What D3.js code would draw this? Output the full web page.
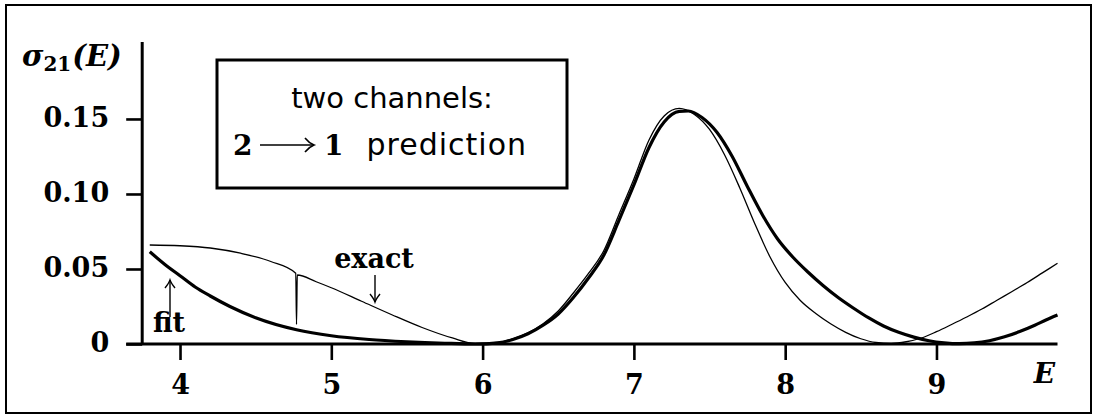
<!DOCTYPE html>
<html>
<head>
<meta charset="utf-8">
<script src="https://cdn.jsdelivr.net/npm/d3@7"></script>
<style>
  html, body { margin: 0; padding: 0; background: #fff; }
  svg { display: block; }
</style>
</head>
<body>
<svg id="chart" width="1097" height="419"></svg>
<script>
// ---- data ----
const xTicks = [4, 5, 6, 7, 8, 9];
const yTicks = [0, 0.05, 0.10, 0.15];
const yTickLabels = ["0", "0.05", "0.10", "0.15"];

// "exact" curve (thin)
const exactE = [3.80, 4.00, 4.20, 4.40, 4.60, 4.765, 4.770, 4.775, 4.90, 5.00, 5.20, 5.40, 5.60, 5.80, 5.95,
  6.10, 6.20, 6.30, 6.40, 6.50, 6.60, 6.70, 6.80, 6.90, 7.00, 7.10, 7.20, 7.30, 7.40, 7.50, 7.60, 7.70, 7.80, 7.90,
  8.00, 8.10, 8.20, 8.30, 8.40, 8.50, 8.60, 8.70, 8.80, 8.90, 9.00, 9.10, 9.20, 9.30, 9.40, 9.50, 9.60, 9.70, 9.80];
const exactV = [0.066, 0.0655, 0.064, 0.0605, 0.055, 0.0472, 0.013, 0.046, 0.0415, 0.0375, 0.0285, 0.0195, 0.011, 0.004, 0.0003,
  0.001, 0.0035, 0.0075, 0.0135, 0.022, 0.034, 0.047, 0.062, 0.086, 0.110, 0.136, 0.152, 0.157, 0.153, 0.143, 0.126, 0.104, 0.080, 0.058,
  0.041, 0.029, 0.0205, 0.0135, 0.0078, 0.0035, 0.001, 0.0004, 0.0015, 0.004, 0.0082, 0.013, 0.018, 0.0233, 0.0292, 0.035, 0.041, 0.0474, 0.0538];

// "fit" curve (thick)
const fitE = [3.80, 3.90, 4.00, 4.10, 4.20, 4.33, 4.50, 4.77, 5.00, 5.25, 5.50, 5.75, 5.95,
  6.10, 6.20, 6.30, 6.40, 6.50, 6.60, 6.70, 6.80, 6.90, 7.00, 7.10, 7.20, 7.30, 7.36, 7.45, 7.55, 7.65, 7.75, 7.85, 7.95,
  8.05, 8.15, 8.25, 8.35, 8.45, 8.55, 8.65, 8.75, 8.85, 8.95, 9.05, 9.15, 9.25, 9.35, 9.45, 9.55, 9.65, 9.72, 9.80];
const fitV = [0.0615, 0.053, 0.0455, 0.038, 0.032, 0.025, 0.0175, 0.0095, 0.0055, 0.003, 0.0015, 0.0005, 0.0,
  0.0008, 0.003, 0.0068, 0.0125, 0.020, 0.031, 0.044, 0.059, 0.082, 0.106, 0.131, 0.148, 0.155, 0.1553, 0.151, 0.141, 0.125, 0.105, 0.086, 0.070,
  0.058, 0.048, 0.039, 0.031, 0.024, 0.0175, 0.012, 0.0078, 0.0046, 0.0022, 0.0008, 0.0002, 0.0007, 0.0022, 0.0048, 0.0083, 0.0125, 0.0158, 0.0193];

// ---- drawing ----
const svg = d3.select("#chart");
const serif = "'DejaVu Serif', serif";
const sans = "'DejaVu Sans', sans-serif";

const x = d3.scaleLinear().domain([3.75, 9.8]).range([142.2, 1057.5]);
const y = d3.scaleLinear().domain([0, 0.2013]).range([344, 42]);

// outer frame
svg.append("rect").attr("x", 6).attr("y", 5).attr("width", 1085).attr("height", 408)
  .attr("fill", "none").attr("stroke", "#000").attr("stroke-width", 2);

// x axis
const xAxis = d3.axisBottom(x).tickValues(xTicks).tickSize(16).tickPadding(8)
  .tickFormat(d3.format("d"));
const gx = svg.append("g").attr("transform", `translate(0,${y(0)})`).call(xAxis);
gx.select(".domain").remove();
gx.selectAll(".tick line").attr("stroke", "#000").attr("stroke-width", 2.6);
gx.selectAll(".tick text").attr("font-family", serif).attr("font-weight", "bold")
  .attr("font-size", 27).attr("fill", "#000").attr("dy", "0.95em");

// y axis
const yAxis = d3.axisLeft(y).tickValues(yTicks).tickSize(16).tickPadding(17)
  .tickFormat((d, i) => yTickLabels[i]);
const gy = svg.append("g").attr("transform", `translate(${x(3.75)},0)`).call(yAxis);
gy.select(".domain").remove();
gy.selectAll(".tick line").attr("stroke", "#000").attr("stroke-width", 2.6);
gy.selectAll(".tick text").attr("font-family", serif).attr("font-weight", "bold")
  .attr("font-size", 27).attr("fill", "#000").attr("dy", "0.28em");

// axis lines
svg.append("line").attr("x1", x(3.75) - 16).attr("x2", x(9.8))
  .attr("y1", y(0)).attr("y2", y(0)).attr("stroke", "#000").attr("stroke-width", 3);
svg.append("line").attr("x1", x(3.75)).attr("x2", x(3.75))
  .attr("y1", y(0)).attr("y2", y(0.2013)).attr("stroke", "#000").attr("stroke-width", 3);

// curves
const line = d3.line().x(d => x(d[0])).y(d => y(d[1])).curve(d3.curveMonotoneX);
const exactData = exactE.map((e, i) => [e, exactV[i]]);
const fitData = fitE.map((e, i) => [e, fitV[i]]);
svg.append("path").datum(exactData).attr("d", line)
  .attr("fill", "none").attr("stroke", "#000").attr("stroke-width", 1.3);
svg.append("path").datum(fitData).attr("d", line)
  .attr("fill", "none").attr("stroke", "#000").attr("stroke-width", 3.2);

// axis titles
const yl = svg.append("text").attr("x", 22).attr("y", 66)
  .attr("font-family", serif).attr("font-weight", "bold").attr("font-style", "italic")
  .attr("font-size", 29).attr("fill", "#000");
yl.append("tspan").text("σ");
yl.append("tspan").attr("font-size", 20).attr("font-style", "normal").attr("dy", 5).text("21");
yl.append("tspan").attr("dy", -5).attr("dx", 1).text("(E)");

svg.append("text").attr("x", 1055).attr("y", 383).attr("text-anchor", "end")
  .attr("font-family", serif).attr("font-weight", "bold").attr("font-style", "italic")
  .attr("font-size", 28).attr("fill", "#000").text("E");

// annotation box
svg.append("rect").attr("x", 217).attr("y", 60).attr("width", 350).attr("height", 128)
  .attr("fill", "#fff").attr("stroke", "#000").attr("stroke-width", 3);
svg.append("text").attr("x", 392).attr("y", 108).attr("text-anchor", "middle")
  .attr("font-family", sans).attr("font-size", 29).attr("fill", "#000").text("two channels:");
svg.append("text").attr("x", 233).attr("y", 155)
  .attr("font-family", serif).attr("font-weight", "bold").attr("font-size", 28).attr("fill", "#000").text("2");
// long arrow
svg.append("line").attr("x1", 260).attr("x2", 313).attr("y1", 145).attr("y2", 145)
  .attr("stroke", "#000").attr("stroke-width", 1.6);
svg.append("path").attr("d", "M305,138 Q309,143 314,145 Q309,147 305,152")
  .attr("fill", "none").attr("stroke", "#000").attr("stroke-width", 1.6);
svg.append("text").attr("x", 324).attr("y", 155)
  .attr("font-family", serif).attr("font-weight", "bold").attr("font-size", 28).attr("fill", "#000").text("1");
svg.append("text").attr("x", 527).attr("y", 155).attr("text-anchor", "end")
  .attr("font-family", sans).attr("font-size", 30).attr("letter-spacing", 1).attr("fill", "#000").text("prediction");

// annotations with arrows
function arrow(xp, yTail, yHead) {
  const dir = yHead < yTail ? 1 : -1;
  svg.append("line").attr("x1", xp).attr("x2", xp).attr("y1", yTail).attr("y2", yHead)
    .attr("stroke", "#000").attr("stroke-width", 1.4);
  svg.append("path")
    .attr("d", `M${xp - 5},${yHead + dir * 8} Q${xp - 1},${yHead + dir * 3} ${xp},${yHead} Q${xp + 1},${yHead + dir * 3} ${xp + 5},${yHead + dir * 8}`)
    .attr("fill", "none").attr("stroke", "#000").attr("stroke-width", 1.4);
}
svg.append("text").attr("x", 374).attr("y", 268).attr("text-anchor", "middle")
  .attr("font-family", serif).attr("font-weight", "bold").attr("font-size", 27).attr("fill", "#000").text("exact");
arrow(375, 275, 302);
svg.append("text").attr("x", 169).attr("y", 332).attr("text-anchor", "middle")
  .attr("font-family", serif).attr("font-weight", "bold").attr("font-size", 27).attr("fill", "#000").text("fit");
arrow(170, 317, 280);
</script>
</body>
</html>
